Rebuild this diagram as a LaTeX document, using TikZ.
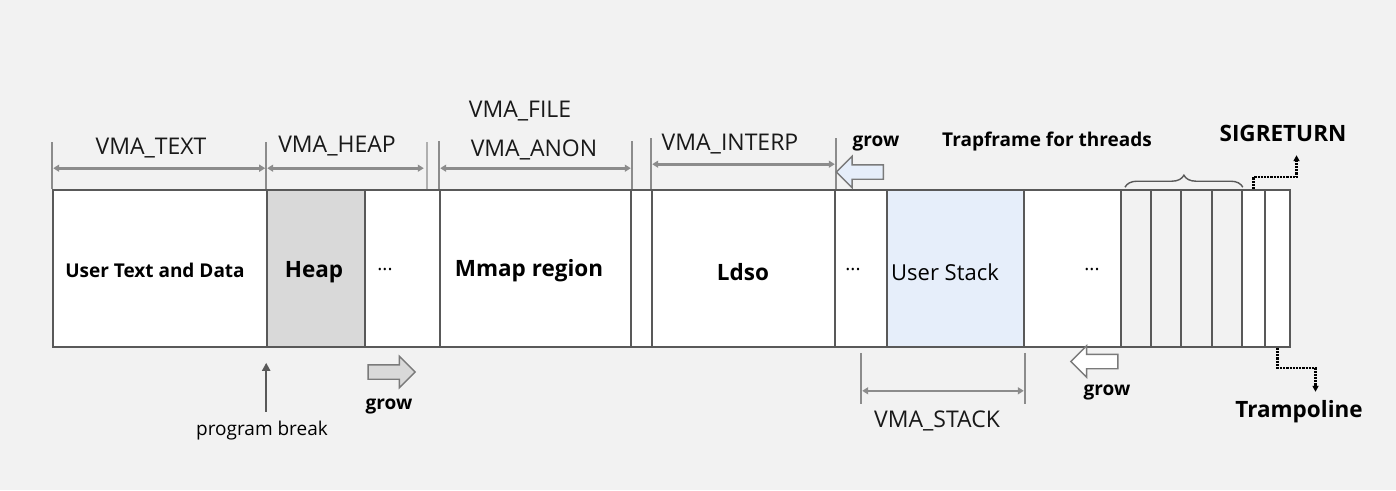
\documentclass[tikz,border=0pt]{standalone}
\usepackage{fontspec}
\setmainfont{Open Sans}
\usetikzlibrary{arrows.meta,shapes.arrows,decorations.pathreplacing,positioning}

\definecolor{bg}{HTML}{F2F2F2}
\definecolor{edge}{HTML}{595959}
\definecolor{dimgray}{HTML}{8C8C8C}
\definecolor{heapgray}{HTML}{D9D9D9}
\definecolor{stackblue}{HTML}{E6EEFA}

\tikzset{
  cell/.style={draw=edge, line width=1.6pt, fill=white, minimum height=157pt, inner sep=0pt},
  vmatick/.style={draw=dimgray, line width=1.6pt},
  vmadim/.style={draw=dimgray, line width=2.6pt, {Triangle[length=6pt,width=7pt]}-{Triangle[length=6pt,width=7pt]}, shorten <=1pt, shorten >=1pt},
  vmalabel/.style={font=\fontsize{23}{26}\selectfont, text=black!90},
  boldlabel/.style={font=\bfseries\fontsize{19}{22}\selectfont},
  biglabel/.style={font=\bfseries\fontsize{22.5}{26}\selectfont},
  plainlabel/.style={font=\fontsize{19}{22}\selectfont},
  growarrow/.style={single arrow, draw=edge!80, line width=1.4pt, inner xsep=0pt, inner ysep=6.5pt, minimum height=47pt, single arrow head extend=8.5pt, single arrow head indent=0pt},
  hop/.style={densely dotted, line width=2.2pt, -{Triangle[length=6pt,width=6pt]}},
}

\begin{document}
\begin{tikzpicture}[x=1pt,y=-1pt]
  \fill[bg] (0,0) rectangle (1396,490);
  \useasboundingbox (0,0) rectangle (1396,490);

  % the cells of the address space
  \node[cell, minimum width=214pt] (text) at (160,268.5) {};
  \node[cell, minimum width=98pt, fill=heapgray] (heap) at (316,268.5) {};
  \node[cell, minimum width=75pt] (dotsa) at (402.5,268.5) {};
  \node[cell, minimum width=191pt] (mmap) at (535.5,268.5) {};
  \node[cell, minimum width=21pt] (gap) at (641.5,268.5) {};
  \node[cell, minimum width=183pt] (ldso) at (743.5,268.5) {};
  \node[cell, minimum width=52pt] (dotsb) at (861,268.5) {};
  \node[cell, minimum width=137pt, fill=stackblue] (stack) at (955.5,268.5) {};
  \node[cell, minimum width=97pt] (dotsc) at (1072.5,268.5) {};
  \node[cell, minimum width=30pt, fill=bg] (tfa) at (1136,268.5) {};
  \node[cell, minimum width=30pt, fill=bg] (tfb) at (1166,268.5) {};
  \node[cell, minimum width=31pt, fill=bg] (tfc) at (1196.5,268.5) {};
  \node[cell, minimum width=30pt, fill=bg] (tfd) at (1227,268.5) {};
  \node[cell, minimum width=23pt] (sig) at (1253.5,268.5) {};
  \node[cell, minimum width=25pt] (tramp) at (1277.5,268.5) {};

  % texts in the cells
  \node[boldlabel] (textlbl) at (155,270) {User Text and Data};
  \node[biglabel] (heaplbl) at (314,272) {Heap};
  \node[plainlabel] (dotsalbl) at (385,270) {...};
  \node[biglabel] (mmaplbl) at (529,271) {Mmap region};
  \node[biglabel] (ldsolbl) at (743,272) {Ldso};
  \node[plainlabel] (dotsblbl) at (853,270) {...};
  \node[font=\fontsize{22}{26}\selectfont] (stacklbl) at (945,272) {User Stack};
  \node[plainlabel] (dotsclbl) at (1092,270) {...};

  % vma ranges above
  \draw[vmatick] (text.north west) -- ++(0,-47);
  \draw[vmatick] (heap.north west) -- ++(0,-47);
  \draw[vmatick, draw=dimgray!70] ([xshift=-14pt]dotsa.north east) -- ++(0,-47);
  \draw[vmatick] (mmap.north west) -- ++(0,-48);
  \draw[vmatick] (mmap.north east) -- ++(0,-48);
  \draw[vmatick] (ldso.north west) -- ++(0,-51);
  \draw[vmatick] (ldso.north east) -- ++(0,-51);
  \draw[vmadim] ([yshift=21pt]text.north west) -- ([yshift=21pt]heap.north west);
  \draw[vmadim] ([yshift=21pt]heap.north west) -- ([xshift=-16pt,yshift=21pt]dotsa.north east);
  \draw[vmadim] ([yshift=21pt]mmap.north west) -- ([yshift=21pt]mmap.north east);
  \draw[vmadim] ([yshift=25pt]ldso.north west) -- ([yshift=25pt]ldso.north east);
  \node[vmalabel] (vmatext) at (151,148) {VMA\_TEXT};
  \node[vmalabel] (vmaheap) at (337,146) {VMA\_HEAP};
  \node[vmalabel] (vmafile) at (520,111) {VMA\_FILE};
  \node[vmalabel] (vmaanon) at (534,150) {VMA\_ANON};
  \node[vmalabel] (vmainterp) at (730,144) {VMA\_INTERP};

  % stack range below
  \draw[vmatick] ([xshift=-25pt,yshift=-5pt]stack.south west) -- ++(0,51);
  \draw[vmatick] ([yshift=-5pt]stack.south east) -- ++(0,51);
  \draw[vmadim] ([xshift=-25pt,yshift=-43pt]stack.south west) -- ([yshift=-43pt]stack.south east);
  \node[vmalabel] (vmastack) at (937,421) {VMA\_STACK};

  % growing directions
  \node[growarrow, fill=stackblue, shape border rotate=180] (stackgrow) at (863.5,172) {};
  \node[boldlabel] (stackgrowlbl) at (876,143) {grow};
  \node[growarrow, fill=white, shape border rotate=180] (mmapgrow) at (1098,361.5) {};
  \node[boldlabel] (mmapgrowlbl) at (1107,392) {grow};
  \node[growarrow, fill=heapgray] (heapgrow) at (388,372) {};
  \node[boldlabel] (heapgrowlbl) at (389,406) {grow};

  % program break
  \node[plainlabel] (brk) at (262,431) {program break};
  \draw[draw=edge, line width=2pt, -{Triangle[length=8pt,width=8pt]}] (heap.south west |- brk.north) ++(0,-6) -- ([yshift=-15pt]heap.south west);

  % trapframes
  \draw[draw=edge, line width=1.4pt, decorate, decoration={brace, amplitude=12pt}] ([yshift=2pt]tfa.north) ++(-11,0) -- ([yshift=2pt]tfd.north east);
  \node[boldlabel] (tflbl) at (1047,142) {Trapframe for threads};

  % sigreturn and trampoline
  \node[biglabel] (sigret) at (1283,133) {SIGRETURN};
  \node[biglabel] (trampo) at (1299,412) {Trampoline};
  \draw[hop] (sig.north) |- ++(43,-12) -- ++(0,-22);
  \draw[hop] (tramp.south) |- ++(38,20) -- ++(0,24);
\end{tikzpicture}
\end{document}
